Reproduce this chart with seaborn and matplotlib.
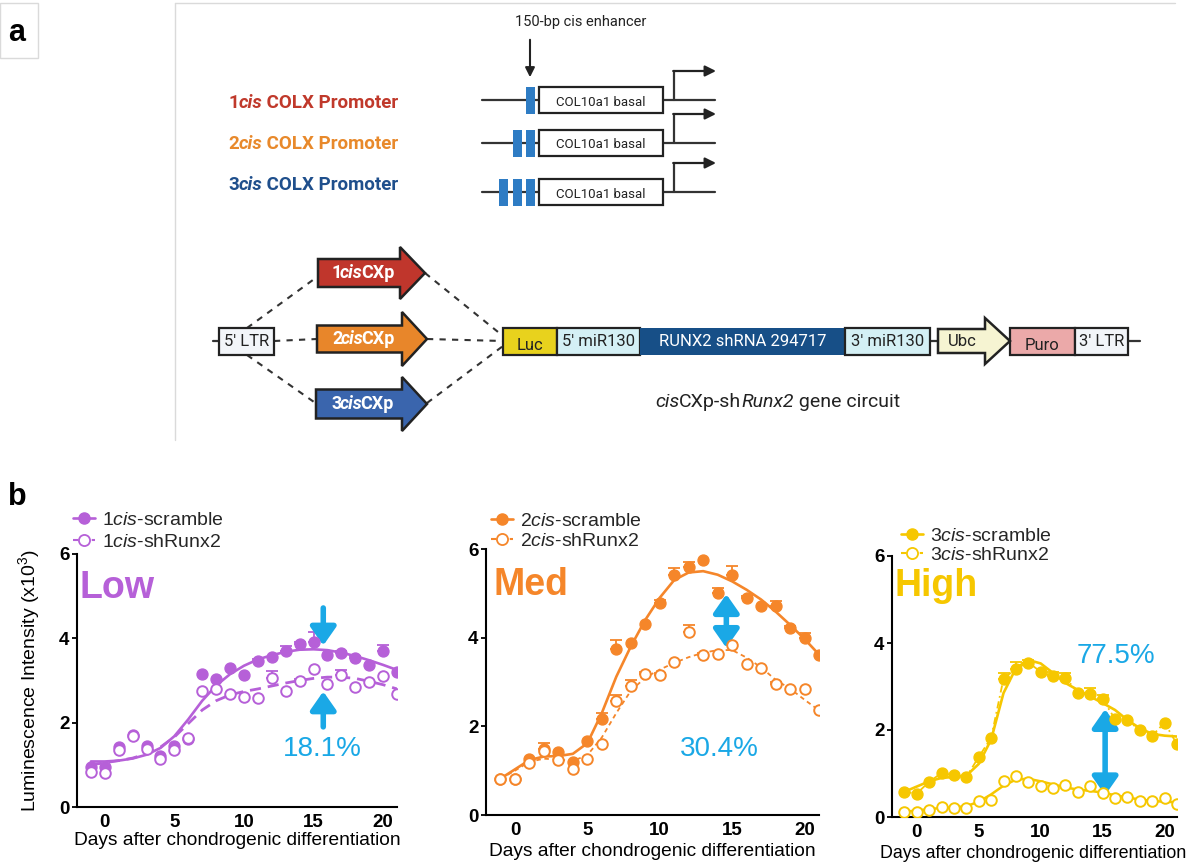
import numpy as np
import pandas as pd
import matplotlib
matplotlib.use("Agg")
import matplotlib.pyplot as plt
import seaborn as sns
from matplotlib.patches import Rectangle, Polygon
from matplotlib.lines import Line2D
from matplotlib.offsetbox import TextArea, HPacker, AnnotationBbox

# ---------------- data ----------------
days = list(range(-1, 22))

low_scr = [0.95, 0.96, 1.42, 1.70, 1.44, 1.22, 1.44, 1.62, 3.16, 3.03, 3.30, 3.13, 3.46, 3.55, 3.69, 3.87, 3.91, 3.60, 3.65, 3.54, 3.36, 3.71, 3.20]
low_sh = [0.82, 0.80, 1.34, 1.69, 1.37, 1.14, 1.34, 1.63, 2.75, 2.81, 2.68, 2.62, 2.59, 3.06, 2.75, 2.98, 3.28, 2.92, 3.14, 2.84, 2.97, 3.11, 2.68]
low_scr_err = [0, 0, 0, 0, 0, 0, 0, 0, 0, 0, 0, 0, 0.05, 0, 0.12, 0.05, 0.25, 0, 0.05, 0.05, 0, 0.14, 0]
low_sh_err = [0, 0, 0, 0, 0, 0, 0, 0, 0, 0, 0, 0, 0, 0.16, 0, 0.06, 0, 0, 0.10, 0, 0, 0, 0]
low_fit_scr = [1.08, 1.08, 1.10, 1.15, 1.24, 1.40, 1.68, 2.08, 2.52, 2.88, 3.15, 3.35, 3.50, 3.60, 3.68, 3.73, 3.74, 3.72, 3.66, 3.58, 3.48, 3.37, 3.25]
low_fit_sh = [1.00, 1.05, 1.10, 1.16, 1.26, 1.42, 1.66, 1.98, 2.30, 2.52, 2.66, 2.74, 2.80, 2.87, 2.94, 3.00, 3.05, 3.08, 3.08, 3.05, 2.98, 2.90, 2.80]

med_scr = [0.82, 0.82, 1.26, 1.50, 1.41, 1.20, 1.66, 2.16, 3.74, 3.88, 4.31, 4.78, 5.42, 5.59, 5.75, 5.01, 5.42, 4.89, 4.72, 4.71, 4.21, 4.00, 3.61]
med_sh = [0.82, 0.82, 1.17, 1.45, 1.23, 1.03, 1.26, 1.60, 2.58, 2.90, 3.17, 3.16, 3.44, 4.13, 3.61, 3.64, 3.83, 3.40, 3.32, 2.96, 2.84, 2.85, 2.37]
med_scr_err = [0, 0, 0, 0.12, 0, 0, 0, 0.15, 0.20, 0, 0, 0.08, 0.15, 0.12, 0, 0.10, 0.20, 0.05, 0, 0.12, 0.05, 0.10, 0]
med_sh_err = [0, 0, 0, 0, 0, 0, 0, 0, 0.12, 0.15, 0.05, 0.05, 0, 0.15, 0.05, 0, 0.05, 0, 0, 0.05, 0, 0, 0]
med_fit_scr = [0.82, 1.03, 1.24, 1.32, 1.33, 1.38, 1.62, 2.30, 3.12, 3.80, 4.40, 4.90, 5.30, 5.47, 5.50, 5.42, 5.27, 5.08, 4.86, 4.59, 4.29, 3.97, 3.62]
med_fit_sh = [0.82, 1.00, 1.20, 1.27, 1.25, 1.22, 1.35, 1.75, 2.30, 2.80, 3.10, 3.28, 3.43, 3.56, 3.66, 3.72, 3.72, 3.55, 3.33, 3.05, 2.85, 2.60, 2.36]

high_scr = [0.58, 0.54, 0.81, 1.01, 0.96, 0.92, 1.38, 1.82, 3.18, 3.41, 3.55, 3.34, 3.23, 3.20, 2.86, 2.82, 2.71, 2.25, 2.22, 2.00, 1.87, 2.17, 1.67]
high_sh = [0.11, 0.12, 0.17, 0.23, 0.20, 0.21, 0.37, 0.40, 0.83, 0.95, 0.81, 0.72, 0.66, 0.73, 0.57, 0.72, 0.55, 0.43, 0.46, 0.37, 0.37, 0.43, 0.31]
high_scr_err = [0, 0, 0, 0, 0, 0, 0, 0, 0.12, 0.15, 0.05, 0, 0.10, 0.12, 0, 0.15, 0.10, 0, 0, 0, 0, 0, 0]
high_sh_err = [0] * 23
high_fit_scr = [0.58, 0.70, 0.82, 0.90, 0.92, 0.95, 1.22, 1.78, 2.85, 3.42, 3.61, 3.53, 3.31, 3.08, 2.92, 2.77, 2.62, 2.46, 2.23, 2.04, 1.91, 1.87, 1.85]
high_fit_sh = [0.12, 0.15, 0.18, 0.21, 0.22, 0.25, 0.35, 0.52, 0.72, 0.86, 0.88, 0.82, 0.75, 0.68, 0.63, 0.60, 0.56, 0.50, 0.45, 0.40, 0.37, 0.35, 0.34]

levels = ["Low", "Med", "High"]
prefixes = ["1", "2", "3"]
percents = ["18.1%", "30.4%", "77.5%"]
x_ticks = [0, 5, 10, 15, 20]
y_ticks = [0, 2, 4, 6]

# ---------------- style ----------------
sns.set_theme(style="ticks")
plt.rcParams["font.family"] = ["Liberation Sans", "DejaVu Sans"]
plt.rcParams["mathtext.fontset"] = "custom"
plt.rcParams["mathtext.rm"] = "Liberation Sans"
plt.rcParams["mathtext.it"] = "Liberation Sans:italic"
plt.rcParams["mathtext.bf"] = "Liberation Sans:bold"

PURPLE = "#B660D8"
ORANGE = "#F5862A"
YELLOW = "#F6C700"
CYAN = "#1AA8E6"
DARK = "#222222"
DIAG = ["Roboto", "DejaVu Sans"]

fig = plt.figure(figsize=(11.88, 8.66), dpi=100)

# ---------------- panel a (pixel-coordinate overlay) ----------------
ov = fig.add_axes([0, 0, 1, 1], zorder=0)
ov.set_xlim(0, 1188)
ov.set_ylim(866, 0)
ov.axis("off")


def rich(x, y, parts, align=(0, 0.5), sep=0, **common):
    areas = []
    for t, p in parts:
        props = dict(common)
        props.update(p)
        areas.append(TextArea(t, textprops=props))
    pack = HPacker(children=areas, align="baseline", pad=0, sep=sep)
    ab = AnnotationBbox(pack, (x, y), xycoords="data", frameon=False,
                        box_alignment=align, pad=0, zorder=6)
    ov.add_artist(ab)


# frames
ov.add_patch(Rectangle((0, 3), 38, 55, fill=False, ec="#DADADA", lw=1))
ov.plot([175, 175], [3, 440], color="#DADADA", lw=1)
ov.plot([175, 1175], [3, 3], color="#DADADA", lw=1)
ov.text(17, 33, "a", fontsize=22, fontweight="bold", ha="center", va="center", color="black")
ov.text(17, 497, "b", fontsize=22, fontweight="bold", ha="center", va="center", color="black")

# promoter rows
ov.text(581, 22, "150-bp cis enhancer", family=DIAG, fontsize=10.5, ha="center", va="center", color=DARK)
ov.annotate("", xy=(530, 80), xytext=(530, 37),
            arrowprops=dict(arrowstyle="-|>", color=DARK, lw=1.5, mutation_scale=14))

row_y = [100, 143, 192]
label_y = [103, 144, 185]
row_colors = ["#C0392B", "#E8892B", "#1F4F8C"]
for i, (yy, ly, col) in enumerate(zip(row_y, label_y, row_colors)):
    rich(228, ly, [(f"{i + 1}", {}), ("cis", {"style": "italic"}), (" COLX Promoter", {})],
         align=(0, 0.5), family=DIAG, fontsize=13.5, fontweight="bold", color=col)
    ov.plot([482, 715], [yy, yy], color="#333333", lw=1.6, zorder=1)
    for k in range(i + 1):
        ov.add_patch(Rectangle((526 - 13.5 * k, yy - 13.5), 9, 27, fc="#2E7CC4", ec="none", zorder=2))
    ov.add_patch(Rectangle((539, yy - 13), 124, 26, fc="white", ec="#222222", lw=1.6, zorder=2))
    ov.text(601, yy + 2, "COL10a1 basal", family=DIAG, fontsize=9.5, ha="center", va="center", color=DARK, zorder=3)
    ov.plot([674, 674], [yy, yy - 29], color="#333333", lw=1.6, zorder=1)
    ov.annotate("", xy=(716, yy - 29), xytext=(673.2, yy - 29),
                arrowprops=dict(arrowstyle="-|>", color="#222222", lw=1.6, mutation_scale=16,
                                shrinkA=0, shrinkB=0))


def block_arrow(x0, xh, xt, yc, hb, hh, fc):
    verts = [(x0, yc - hb), (xh, yc - hb), (xh, yc - hh), (xt, yc),
             (xh, yc + hh), (xh, yc + hb), (x0, yc + hb)]
    ov.add_patch(Polygon(verts, closed=True, fc=fc, ec="#222222", lw=1.8, joinstyle="miter", zorder=3))


dash = (0, (3, 3))
ov.plot([247, 317], [328, 277], color="#333333", lw=1.5, ls=dash, zorder=1)
ov.plot([274, 317], [341, 339], color="#333333", lw=1.5, ls=dash, zorder=1)
ov.plot([247, 314], [355, 402], color="#333333", lw=1.5, ls=dash, zorder=1)
ov.plot([425, 503], [273, 336], color="#333333", lw=1.5, ls=dash, zorder=1)
ov.plot([427, 503], [339, 341], color="#333333", lw=1.5, ls=dash, zorder=1)
ov.plot([427, 503], [403, 346], color="#333333", lw=1.5, ls=dash, zorder=1)

arrows = [(318, 400, 425, 273, 14, 26, "#C0362C"),
          (317, 402, 427, 339, 13.5, 27, "#E8862A"),
          (316, 402, 427, 404, 14.5, 27, "#3A65AD")]
for i, (x0, xh, xt, yc, hb, hh, fc) in enumerate(arrows):
    block_arrow(x0, xh, xt, yc, hb, hh, fc)
    rich((x0 + xh) / 2 + 4, yc, [(f"{i + 1}", {}), ("cis", {"style": "italic"}), ("CXp", {})],
         align=(0.5, 0.5), sep=-1.5, family=DIAG, fontsize=13, fontweight="bold", color="white")

# construct
ov.plot([213, 219], [341, 341], color="#333333", lw=1.6, zorder=1)
ov.plot([930, 938], [341, 341], color="#333333", lw=1.6, zorder=1)
ov.plot([1128, 1140], [341, 341], color="#333333", lw=1.6, zorder=1)
boxes = [(219, 274, "#F2F5F9", "5' LTR", DARK),
         (503, 557, "#E8D21D", "Luc", DARK),
         (557, 640, "#D4F0F5", "5' miR130", DARK),
         (640, 845, "#174F87", "RUNX2 shRNA 294717", "white"),
         (845, 930, "#D4F0F5", "3' miR130", DARK),
         (1010, 1075, "#EBA9A9", "Puro", DARK),
         (1075, 1128, "#F2F5F9", "3' LTR", DARK)]
for x0, x1, fc, label, tc in boxes:
    ec = "none" if label.startswith("RUNX2") else "#222222"
    ov.add_patch(Rectangle((x0, 328), x1 - x0, 27, fc=fc, ec=ec, lw=1.6, zorder=2))
    off = 4 if label in ("Luc", "Puro") else 1
    ov.text((x0 + x1) / 2, 341 + off, label, family=DIAG, fontsize=12, ha="center", va="center", color=tc, zorder=3)
block_arrow(938, 985, 1010, 341, 12, 23, "#F6F4D2")
ov.text(962, 342, "Ubc", family=DIAG, fontsize=12, ha="center", va="center", color=DARK, zorder=4)
rich(655, 402, [("cis", {"style": "italic"}), ("CXp-sh", {}), ("Runx2", {"style": "italic"}), (" gene circuit", {})],
     align=(0, 0.5), family=DIAG, fontsize=14, color=DARK)

# ---------------- panel b ----------------
panels = [
    dict(rect=[77 / 1188, 1 - 807 / 866, 320 / 1188, 253 / 866], color=PURPLE,
         scr=low_scr, sh=low_sh, se=low_scr_err, she=low_sh_err, fs=low_fit_scr, fh=low_fit_sh,
         sh_ls=(0, (4, 2.5)), sh_lw=2.0, leg=(73, 511), lsp=0.26, label_xy=(-1.85, 5.2),
         pct_xy=(15.6, 1.38), xfs=13.8, xpad=1, xcenter=0.5),
    dict(rect=[486 / 1188, 1 - 815 / 866, 333 / 1188, 266 / 866], color=ORANGE,
         scr=med_scr, sh=med_sh, se=med_scr_err, she=med_sh_err, fs=med_fit_scr, fh=med_fit_sh,
         sh_ls=(0, (2.5, 2)), sh_lw=1.3, leg=(491, 512), lsp=0.12, label_xy=(-1.45, 5.18),
         pct_xy=(14.1, 1.48), xfs=13.8, xpad=3, xcenter=0.5),
    dict(rect=[892 / 1188, 1 - 817 / 866, 285 / 1188, 261 / 866], color=YELLOW,
         scr=high_scr, sh=high_sh, se=high_scr_err, she=high_sh_err, fs=high_fit_scr, fh=high_fit_sh,
         sh_ls="-", sh_lw=1.8, leg=(901, 527), lsp=0.07, label_xy=(-1.8, 5.3),
         pct_xy=(16.1, 3.7), xfs=12.9, xpad=3, xcenter=0.495),
]

for i, p in enumerate(panels):
    ax = fig.add_axes(p["rect"], zorder=2)
    ax.patch.set_alpha(0)
    c = p["color"]
    df = pd.DataFrame({"day": days, "scr": p["scr"], "sh": p["sh"], "fs": p["fs"], "fh": p["fh"]})
    sns.lineplot(data=df, x="day", y="fs", ax=ax, color=c, lw=1.9, zorder=2)
    sns.lineplot(data=df, x="day", y="fh", ax=ax, color=c, lw=p["sh_lw"], linestyle=p["sh_ls"], zorder=2)
    if i == 2:
        sns.lineplot(data=df, x="day", y="scr", ax=ax, color=c, lw=1.3, linestyle=(0, (4, 2, 1, 2)), zorder=2)
    for vals, err in ((p["scr"], p["se"]), (p["sh"], p["she"])):
        d = [x for x, e in zip(days, err) if e > 0]
        v = [y for y, e in zip(vals, err) if e > 0]
        e = [e for e in err if e > 0]
        if d:
            ax.errorbar(d, v, yerr=[np.zeros(len(e)), e], fmt="none", ecolor=c, elinewidth=1.3,
                        capsize=4.5, capthick=1.3, zorder=2.5)
    sns.scatterplot(data=df, x="day", y="scr", ax=ax, color=c, edgecolor=c, s=62, linewidth=1, zorder=4)
    sns.scatterplot(data=df, x="day", y="sh", ax=ax, color="white", edgecolor=c, s=58, linewidth=1.4, zorder=5)

    ax.set_xlim(-2, 21)
    ax.set_ylim(0, 6)
    ax.set_xticks(x_ticks)
    ax.set_yticks(y_ticks)
    for lab in ax.get_xticklabels() + ax.get_yticklabels():
        lab.set_fontweight("bold")
        lab.set_fontsize(13.5)
    ax.tick_params(axis="both", colors="black", width=1.3, length=3.5, pad=2)
    ax.tick_params(axis="x", length=0, pad=5)
    for s in ("left", "bottom"):
        ax.spines[s].set_linewidth(1.5)
        ax.spines[s].set_color("black")
    sns.despine(ax=ax)
    ax.set_xlabel("Days after chondrogenic differentiation", fontsize=p["xfs"],
                  labelpad=p["xpad"], color="black")
    ax.xaxis.label.set_x(p["xcenter"])
    if i == 0:
        ax.set_ylabel("Luminescence Intensity (x10$^3$)", fontsize=14, color="black")
        ax.yaxis.set_label_coords(-0.11, 0.5)
    else:
        ax.set_ylabel("")

    ax.text(p["label_xy"][0], p["label_xy"][1], levels[i], fontsize=27, fontweight="bold",
            color=c, ha="left", va="center")
    ax.text(p["pct_xy"][0], p["pct_xy"][1], percents[i], fontsize=20, color=CYAN,
            ha="center", va="center")

    handles = [Line2D([], [], color=c, lw=1.9, marker="o", markersize=8, markerfacecolor=c, markeredgecolor=c),
               Line2D([], [], color=c, lw=1.5, ls=(0, (2.5, 2)), marker="o", markersize=8,
                      markerfacecolor="white", markeredgecolor=c, markeredgewidth=1.3)]
    labels = [f"{prefixes[i]}$\\mathit{{cis}}$-scramble", f"{prefixes[i]}$\\mathit{{cis}}$-shRunx2"]
    lx, ly = p["leg"]
    ax.legend(handles, labels, loc="upper left", bbox_to_anchor=(lx / 1188, 1 - ly / 866),
              bbox_transform=fig.transFigure, frameon=False, fontsize=14, handlelength=1.15,
              handletextpad=0.35, labelspacing=p["lsp"], borderpad=0, borderaxespad=0)

    arrow1 = dict(arrowstyle="-|>,head_length=0.5,head_width=0.35", color=CYAN, lw=4,
                  mutation_scale=22, shrinkA=0, shrinkB=0)
    arrow2 = dict(arrowstyle="<|-|>,head_length=0.5,head_width=0.35", color=CYAN, lw=4,
                  mutation_scale=22, shrinkA=0, shrinkB=0)
    if i == 0:
        ax.annotate("", xy=(15.7, 3.83), xytext=(15.7, 4.72), arrowprops=arrow1)
        ax.annotate("", xy=(15.7, 2.74), xytext=(15.7, 1.9), arrowprops=arrow1)
    elif i == 1:
        ax.annotate("", xy=(14.6, 3.77), xytext=(14.6, 4.98), arrowprops=arrow2)
    else:
        ax.annotate("", xy=(15.2, 0.5), xytext=(15.2, 2.48), arrowprops=arrow2)

fig.savefig("out.png", dpi=100, facecolor="white")
